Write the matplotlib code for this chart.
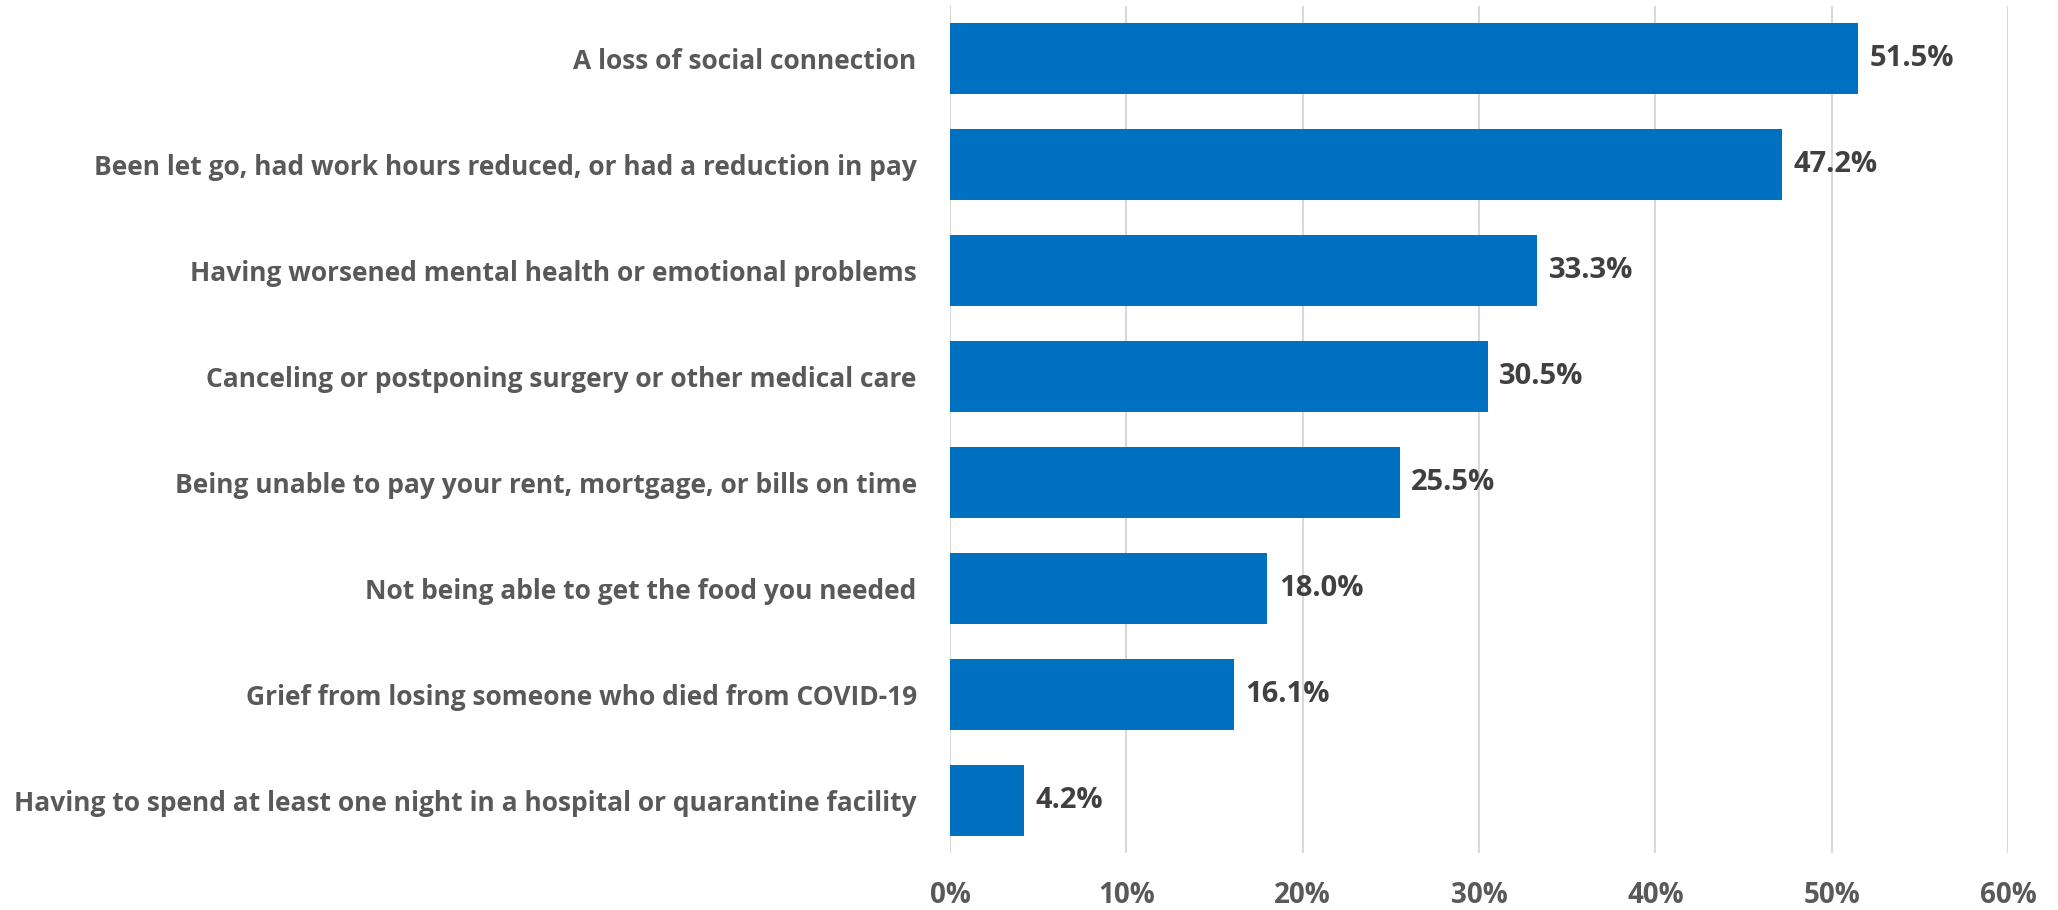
import matplotlib
matplotlib.use("Agg")
import matplotlib.pyplot as plt
from matplotlib.ticker import FuncFormatter

categories = [
    "A loss of social connection",
    "Been let go, had work hours reduced, or had a reduction in pay",
    "Having worsened mental health or emotional problems",
    "Canceling or postponing surgery or other medical care",
    "Being unable to pay your rent, mortgage, or bills on time",
    "Not being able to get the food you needed",
    "Grief from losing someone who died from COVID-19",
    "Having to spend at least one night in a hospital or quarantine facility",
]
values = [51.5, 47.2, 33.3, 30.5, 25.5, 18.0, 16.1, 4.2]
xticks = [0, 10, 20, 30, 40, 50, 60]

fam = ["Liberation Sans Narrow", "Open Sans", "DejaVu Sans"]
plt.rcParams['font.family'] = fam

fig = plt.figure(figsize=(20.58, 9.10), dpi=100)
ax = fig.add_axes([950/2058, 1-853/910, (2008-950)/2058, (853-6)/910])

n = len(categories)
ypos = list(range(n))[::-1]
ax.barh(ypos, values, height=0.67, color="#0070C0", zorder=3)
for y, v in zip(ypos, values):
    ax.text(v + 0.65, y, f"{v:.1f}%", va="center", ha="left", fontsize=21,
            fontweight="bold", color="#404040")

ax.set_xlim(0, 60)
ax.set_ylim(-0.5, n - 0.5)
ax.set_xticks(xticks)
ax.xaxis.set_major_formatter(FuncFormatter(lambda x, p: f"{int(x)}%"))
ax.set_yticks(ypos)
ax.set_yticklabels(categories)
for lab in ax.get_yticklabels():
    lab.set_fontsize(19)
    lab.set_fontweight("bold")
    lab.set_color("#595959")
for lab in ax.get_xticklabels():
    lab.set_fontsize(20)
    lab.set_fontweight("bold")
    lab.set_color("#595959")
ax.tick_params(axis="y", length=0, pad=24)
ax.tick_params(axis="x", length=0, pad=20)
ax.grid(axis="x", color="#D9D9D9", linewidth=1.5, zorder=0)
for s in ax.spines.values():
    s.set_visible(False)

fig.savefig("out.png", dpi=100)
